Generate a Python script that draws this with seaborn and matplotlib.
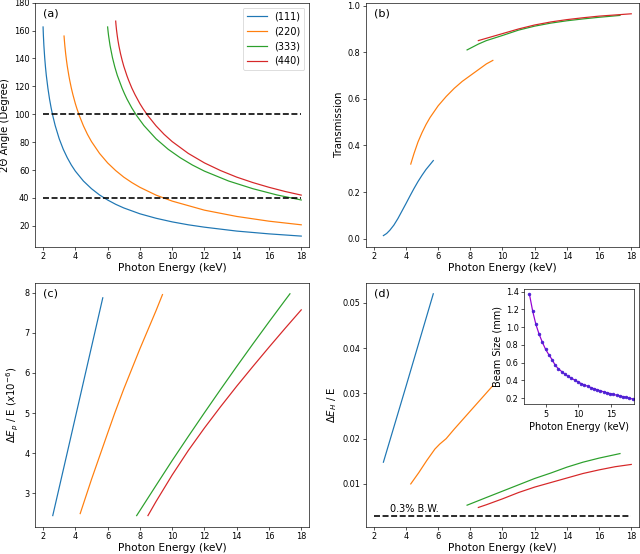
import pandas as pd
import seaborn as sns
import matplotlib.pyplot as plt

# reflections and colours
refl = ['(111)', '(220)', '(333)', '(440)']
colors = ['#1f77b4', '#ff7f0e', '#2ca02c', '#d62728']

# (a) 2-theta angle vs photon energy
e_a_111 = [2.0, 2.01, 2.02, 2.05, 2.1, 2.15, 2.2, 2.3, 2.4, 2.5, 2.6, 2.75, 3.0, 3.25, 3.5, 3.75, 4.0, 4.5, 5.0,
           5.5, 6.0, 6.5, 7.0, 8.0, 9.0, 10.0, 11.0, 12.0, 14.0, 16.0, 18.0]
ang_111 = [162.6, 159.2, 156.3, 149.3, 140.6, 133.7, 127.9, 118.6, 110.9, 104.5, 99.0, 91.9, 82.4, 74.9, 68.8, 63.6,
           59.2, 52.1, 46.6, 42.1, 38.5, 35.4, 32.8, 28.6, 25.4, 22.8, 20.7, 19.0, 16.2, 14.2, 12.6]
e_a_220 = [3.3, 3.32, 3.35, 3.4, 3.45, 3.5, 3.6, 3.65, 3.75, 3.85, 4.0, 4.1, 4.25, 4.5, 4.75, 5.0, 5.5, 6.0, 6.5,
           7.0, 7.5, 8.0, 9.0, 10.0, 12.0, 14.0, 16.0, 18.0]
ang_220 = [156.1, 153.0, 149.0, 143.4, 138.7, 134.5, 127.5, 124.4, 118.8, 114.0, 107.6, 103.9, 98.9, 91.7, 85.6, 80.4,
           71.9, 65.1, 59.6, 54.9, 51.0, 47.6, 42.0, 37.7, 31.2, 26.7, 23.3, 20.7]
e_a_333 = [6.0, 6.03, 6.06, 6.15, 6.3, 6.45, 6.6, 6.9, 7.05, 7.2, 7.5, 7.8, 8.25, 9.0, 9.75, 10.5, 11.25, 12.0,
           13.5, 15.0, 16.5, 18.0]
ang_333 = [162.6, 159.2, 156.3, 149.3, 140.6, 133.7, 127.9, 118.6, 114.6, 110.9, 104.5, 99.0, 91.9, 82.4, 74.9, 68.8,
           63.6, 59.2, 52.1, 46.6, 42.1, 38.5]
e_a_440 = [6.5, 6.52, 6.55, 6.6, 6.64, 6.7, 6.8, 6.9, 7.0, 7.2, 7.3, 7.5, 7.7, 8.0, 8.2, 8.5, 9.0, 9.5, 10.0, 11.0,
           12.0, 13.0, 14.0, 15.0, 16.0, 17.0, 18.0]
ang_440 = [166.8, 164.0, 160.6, 156.1, 153.0, 149.0, 143.4, 138.7, 134.5, 127.5, 124.4, 118.8, 114.0, 107.6, 103.9,
           98.9, 91.7, 85.6, 80.4, 71.9, 65.1, 59.6, 54.9, 51.0, 47.6, 44.6, 42.0]
ang_limits = [100, 40]

# (b) transmission
e_b_111 = [2.6, 2.8, 3.0, 3.25, 3.5, 3.75, 4.0, 4.25, 4.5, 4.75, 5.0, 5.25, 5.5, 5.7]
tr_111 = [0.013, 0.022, 0.036, 0.058, 0.086, 0.118, 0.15, 0.183, 0.215, 0.245, 0.272, 0.297, 0.318, 0.335]
e_b_220 = [4.3, 4.5, 4.75, 5.0, 5.25, 5.5, 6.0, 6.5, 7.0, 7.5, 8.0, 8.5, 9.0, 9.4]
tr_220 = [0.32, 0.365, 0.415, 0.455, 0.49, 0.52, 0.57, 0.61, 0.645, 0.675, 0.70, 0.725, 0.75, 0.765]
e_b_333 = [7.8, 8.5, 9.0, 10.0, 11.0, 12.0, 13.0, 14.0, 15.0, 16.0, 17.3]
tr_333 = [0.81, 0.835, 0.85, 0.872, 0.895, 0.912, 0.925, 0.935, 0.943, 0.95, 0.958]
e_b_440 = [8.5, 9.0, 10.0, 11.0, 12.0, 13.0, 14.0, 15.0, 16.0, 17.0, 18.0]
tr_440 = [0.85, 0.86, 0.88, 0.90, 0.917, 0.93, 0.94, 0.948, 0.955, 0.96, 0.965]

# (c) dE_p / E (x1e-6)
e_c_111 = [2.6, 3.5, 4.5, 5.7]
dep_111 = [2.45, 4.02, 5.77, 7.87]
e_c_220 = [4.3, 5.0, 6.0, 6.44, 7.0, 8.0, 9.0, 9.4]
dep_220 = [2.5, 3.35, 4.5, 5.0, 5.6, 6.6, 7.55, 7.95]
e_c_333 = [7.8, 9.0, 10.0, 11.0, 12.0, 13.0, 14.0, 15.0, 16.0, 17.0, 17.3]
dep_333 = [2.45, 3.2, 3.82, 4.42, 5.01, 5.59, 6.16, 6.72, 7.27, 7.81, 7.97]
e_c_440 = [8.5, 9.0, 10.0, 11.0, 12.0, 13.0, 14.0, 15.0, 16.0, 17.0, 18.0]
dep_440 = [2.45, 2.8, 3.46, 4.07, 4.63, 5.16, 5.67, 6.16, 6.64, 7.11, 7.57]

# (d) dE_H / E
e_d_111 = [2.6, 4.0, 5.7]
deh_111 = [0.0148, 0.0315, 0.052]
e_d_220 = [4.3, 4.8, 5.3, 5.8, 6.1, 6.5, 7.0, 7.5, 8.0, 8.5, 9.0, 9.4]
deh_220 = [0.010, 0.0125, 0.0152, 0.0177, 0.0188, 0.0200, 0.0221, 0.0241, 0.0261, 0.0281, 0.0301, 0.0317]
e_d_333 = [7.8, 9.0, 10.0, 11.0, 12.0, 13.0, 14.0, 15.0, 16.0, 17.3]
deh_333 = [0.0053, 0.0070, 0.0084, 0.0098, 0.0112, 0.0124, 0.0137, 0.0148, 0.0157, 0.0167]
e_d_440 = [8.5, 9.0, 10.0, 11.0, 12.0, 13.0, 14.0, 15.0, 16.0, 17.0, 18.0]
deh_440 = [0.0048, 0.0054, 0.0067, 0.0081, 0.0093, 0.0103, 0.0113, 0.0123, 0.0131, 0.0138, 0.0143]
bw_limit = 0.003

# inset: beam size
beam_e = [2.4, 2.9, 3.4, 3.9, 4.4, 4.9, 5.4, 5.9, 6.4, 6.9, 7.4, 7.9, 8.4, 8.9, 9.4, 9.9, 10.4,
          10.9, 11.4, 11.9, 12.4, 12.9, 13.4, 13.9, 14.4, 14.9, 15.4, 15.9, 16.4, 16.9, 17.4, 17.9, 18.4]
beam_mm = [1.37, 1.18, 1.03, 0.92, 0.83, 0.75, 0.69, 0.635, 0.57, 0.53, 0.50, 0.47, 0.445, 0.425, 0.405, 0.385, 0.365,
           0.35, 0.335, 0.32, 0.307, 0.295, 0.283, 0.272, 0.262, 0.252, 0.243, 0.234, 0.226, 0.218, 0.21, 0.2, 0.19]

panels = [
    ([e_a_111, e_a_220, e_a_333, e_a_440], [ang_111, ang_220, ang_333, ang_440]),
    ([e_b_111, e_b_220, e_b_333, e_b_440], [tr_111, tr_220, tr_333, tr_440]),
    ([e_c_111, e_c_220, e_c_333, e_c_440], [dep_111, dep_220, dep_333, dep_440]),
    ([e_d_111, e_d_220, e_d_333, e_d_440], [deh_111, deh_220, deh_333, deh_440]),
]
ylabels = ['2Θ Angle (Degree)', 'Transmission', r'$\Delta E_p$ / E ($x10^{-6}$)', r'$\Delta E_H$ / E']
tags = ['(a)', '(b)', '(c)', '(d)']
boxes = [[0.0547, 0.5547, 0.4286, 0.4404], [0.5714, 0.5547, 0.4275, 0.4404],
         [0.0547, 0.0493, 0.4286, 0.4404], [0.5714, 0.0493, 0.4275, 0.4404]]

fig = plt.figure(figsize=(11, 9.522), dpi=640 / 11)
axs = []
for k in range(4):
    ax = fig.add_axes(boxes[k])
    xs, ys = panels[k]
    for i in range(4):
        df = pd.DataFrame({'energy': xs[i], 'val': ys[i]})
        sns.lineplot(data=df, x='energy', y='val', ax=ax, color=colors[i], lw=1.5,
                     label=refl[i] if k == 0 else None, errorbar=None, sort=False)
    ax.set_xlim(1.5, 18.5)
    ax.set_xticks(range(2, 19, 2))
    ax.set_xlabel('Photon Energy (keV)', fontsize=13, labelpad=2)
    ax.set_ylabel(ylabels[k], fontsize=12.5)
    ax.tick_params(labelsize=10)
    ax.text(0.03, 0.977, tags[k], transform=ax.transAxes, va='top', ha='left', fontsize=14)
    axs.append(ax)

# (a) limits and reference lines
ax = axs[0]
for y in ang_limits:
    ax.plot([2, 18], [y, y], 'k--', lw=2)
ax.set_ylim(5, 180)
ax.set_yticks(range(20, 181, 20))
ax.legend(loc='upper right', fontsize=12)

# (d) bandwidth line
ax = axs[3]
ax.plot([2, 18], [bw_limit, bw_limit], 'k--', lw=2)
ax.text(3.0, 0.0037, '0.3% B.W.', fontsize=12, va='baseline')

# inset
ax_in = fig.add_axes([0.8192, 0.2702, 0.1714, 0.2081])
sns.lineplot(x=beam_e, y=beam_mm, ax=ax_in, color='darkviolet', lw=1.5, marker='o', markersize=3.5,
             markerfacecolor='#4b1fd4', markeredgecolor='#4b1fd4', errorbar=None)
ax_in.set_xlim(1.6, 18.6)
ax_in.set_xticks([5, 10, 15])
ax_in.set_yticks([0.2, 0.4, 0.6, 0.8, 1.0, 1.2, 1.4])
ax_in.set_xlabel('Photon Energy (keV)', fontsize=12)
ax_in.set_ylabel('Beam Size (mm)', fontsize=12)
ax_in.tick_params(labelsize=10)

fig.savefig('out.png', dpi=640 / 11)
